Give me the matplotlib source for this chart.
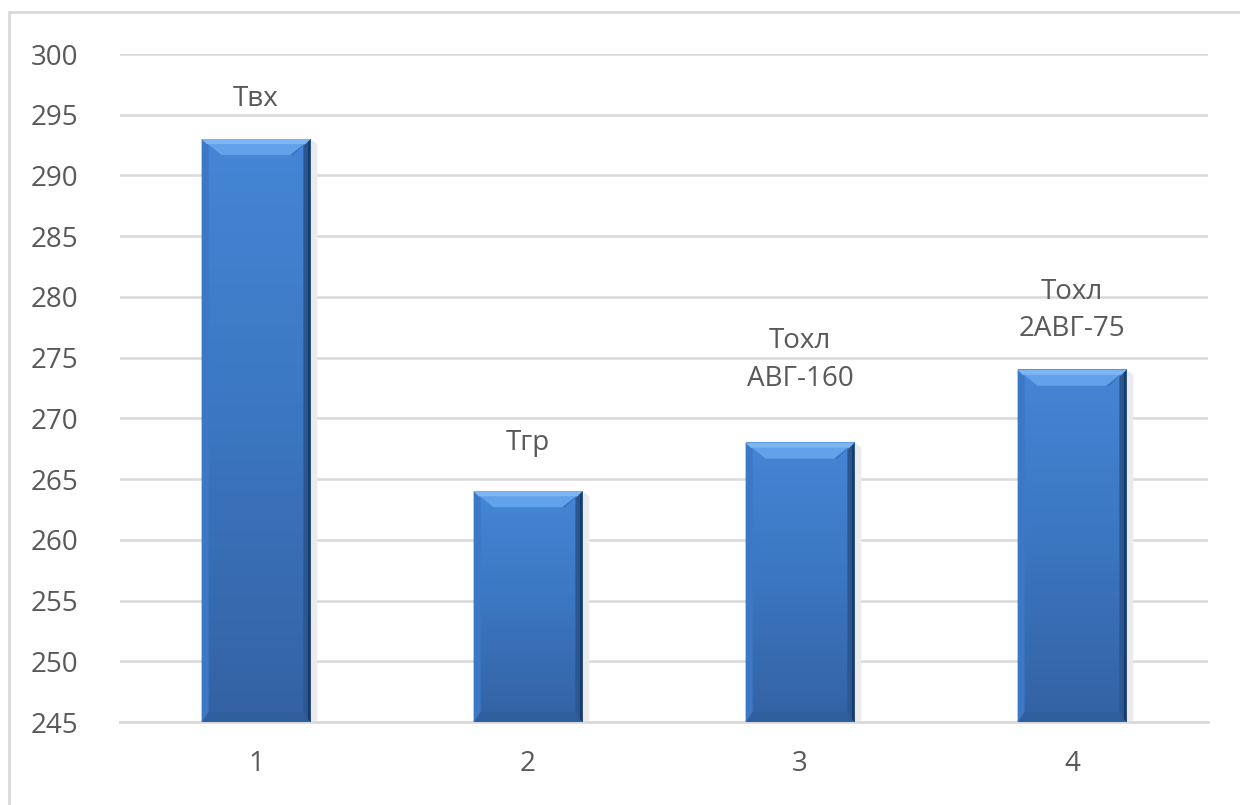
import numpy as np
import matplotlib.pyplot as plt
from matplotlib.patches import Polygon, Rectangle
from matplotlib.colors import LinearSegmentedColormap

categories = ["1", "2", "3", "4"]
values = [293, 264, 268, 274]
labels = ["Твх", "Тгр", "Тохл\nАВГ-160", "Тохл\n2АВГ-75"]
yticks = [245, 250, 255, 260, 265, 270, 275, 280, 285, 290, 295, 300]

# расстояние подписи над столбцом (в единицах оси)
label_gap = [3.3, 4.0, 6.8, 4.9]

plt.rcParams['font.family'] = ['Open Sans', 'DejaVu Sans']
txt_color = "#595959"

fig = plt.figure(figsize=(12.4, 8.05), dpi=100)
W, H = 1240, 805
# внешняя рамка
fig.patches.append(Rectangle((9 / W, -0.2), 1.2, (H - 12) / H + 0.2, transform=fig.transFigure,
                             fill=False, edgecolor="#d9d9d9", linewidth=2))

ax = fig.add_axes([120 / W, (H - 722) / H, (1208 - 120) / W, (722 - 54) / H])
x = np.arange(len(categories))
bars = ax.bar(x, values, width=0.4, color="#3d7ac4", zorder=3)
ax.set_ylim(245, 300)
ax.set_xlim(-0.5, len(categories) - 0.5)
ax.set_yticks(yticks)
ax.set_xticks(x)
ax.set_xticklabels(categories)
ax.tick_params(length=0, labelsize=20, colors=txt_color)
ax.tick_params(axis="y", pad=30)
ax.tick_params(axis="x", pad=20)
for s in ["top", "right", "left"]:
    ax.spines[s].set_visible(False)
ax.spines["bottom"].set_color("#d9d9d9")
ax.spines["bottom"].set_linewidth(2)
ax.yaxis.grid(True, color="#d9d9d9", linewidth=1.8)
ax.set_axisbelow(True)

face = LinearSegmentedColormap.from_list("face", ["#3462a3", "#3b76c0", "#4486d6"])
inv = ax.transData.inverted()
bev = 16  # px
side = 7

for b, v in zip(bars, values):
    x0 = b.get_x()
    x1 = x0 + b.get_width()
    b.set_visible(False)
    (px0, py0), (px1, py1) = ax.transData.transform([(x0, 245), (x1, v)])

    def poly(pts, col, z=4):
        ax.add_patch(Polygon([inv.transform(p) for p in pts], closed=True,
                             facecolor=col, edgecolor="none", zorder=z))

    # тень
    poly([(px1, py0), (px1 + 7, py0), (px1 + 7, py1 - 5), (px1, py1)], "#ebebeb", 2)
    grad = np.linspace(0, 1, 256).reshape(-1, 1)
    ax.imshow(grad, extent=(x0, x1, 245, v), origin="lower", aspect="auto",
              cmap=face, zorder=3)

    # скосы
    poly([(px0, py0), (px1, py0), (px1 - side, py0 + 10), (px0 + side, py0 + 10)], "#305e9c")
    poly([(px0, py0), (px0 + side, py0 + 10), (px0 + side, py1 - side), (px0, py1)], "#3b78c6")
    poly([(px1, py0), (px1 - side, py0 + 10), (px1 - side, py1 - side), (px1, py1)], "#2b5690")
    poly([(px1, py0), (px1 - 2.5, py0 + 3), (px1 - 2.5, py1 - 3), (px1, py1)], "#1d3a66", 5)
    poly([(px0, py1), (px1, py1), (px1 - bev - 4, py1 - bev), (px0 + bev + 4, py1 - bev)], "#62a2ea")
    poly([(px1, py1), (px1 - bev - 4, py1 - bev), (px1 - bev - 1, py1 - bev), (px1 - 2, py1 - 1)], "#3a70b4", 5)
    poly([(px0, py1), (px1, py1), (px1 - 5, py1 - 5), (px0 + 5, py1 - 5)], "#7db6f2", 5)

ax.set_xlim(-0.5, len(categories) - 0.5)
ax.set_ylim(245, 300)

for xi, v, lab, g in zip(x, values, labels, label_gap):
    ax.text(xi, v + g, lab, ha="center", va="center", fontsize=20,
            color=txt_color, linespacing=1.45, zorder=6)

fig.savefig("out.png", dpi=100, facecolor="white")
